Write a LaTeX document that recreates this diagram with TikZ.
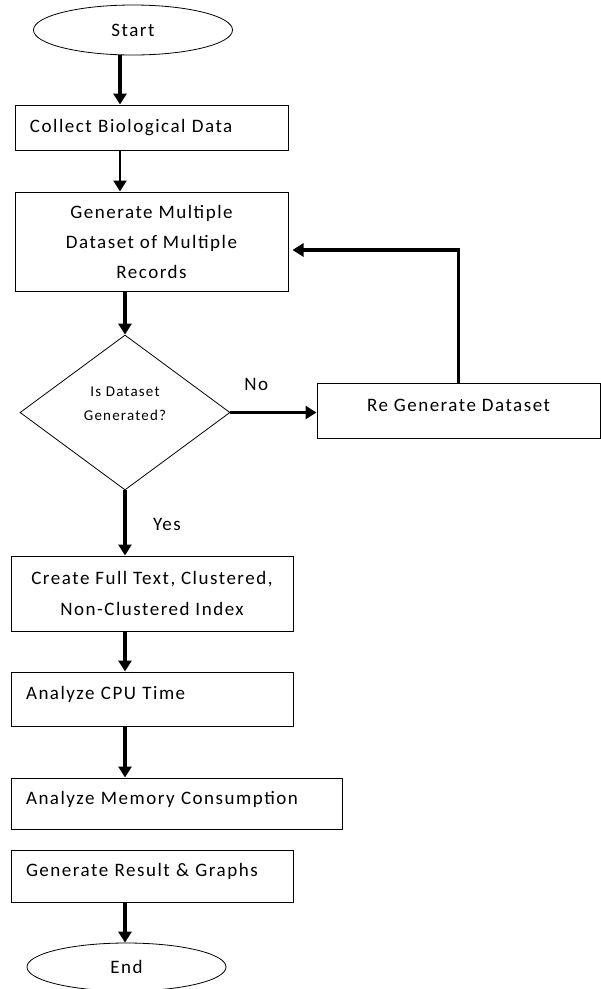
\documentclass[tikz,border=0pt]{standalone}
\usepackage{fontspec}
\setmainfont[LetterSpace=8]{Carlito}
\usetikzlibrary{arrows.meta}
\usetikzlibrary{shapes.geometric}

\begin{document}
\begin{tikzpicture}[x=1pt, y=-1pt,
	box/.style={draw=black, line width=1pt, inner sep=0pt, font=\fontsize{19}{30}\selectfont},
	leftbox/.style={box, inner xsep=15pt, align=left},
	midbox/.style={box, align=center},
	term/.style={draw=black, line width=0.8pt, ellipse, inner sep=0pt, font=\fontsize{19}{30}\selectfont},
	flow/.style={line width=3.5pt, -{Triangle[length=11pt, width=13pt]}},
	raise/.style={text height=14pt, text depth=13pt},
	tag/.style={font=\fontsize{19}{23}\selectfont}]

	\clip (0,0) rectangle (601,989);

	%spines for the vertical arrows
	\coordinate (LeftSpine) at (120,0);
	\coordinate (MainSpine) at (125,0);

	%terminals
	\node[term, minimum width=199pt, minimum height=50pt] (StartNode) at (133,30) {Start};
	\node[term, minimum width=199pt, minimum height=48pt] (EndNode) at (126.5,967) {End};

	%process boxes
	\node[leftbox, text width=243pt, minimum height=45pt] (CollectBox) at (151.5,127.5) {Collect Biological Data};
	\node[midbox, minimum width=273pt, minimum height=99pt] (GenBox) at (151.5,241.5) {Generate Multiple\\Dataset of Multiple\\Records};
	\node[midbox, raise, minimum width=283pt, minimum height=55pt] (RegenBox) at (458.5,410.5) {Re Generate Dataset};
	\node[midbox, font=\fontsize{19}{31}\selectfont, minimum width=282pt, minimum height=75pt] (CreateBox) at (152,593.5) {Create Full Text, Clustered,\\Non-Clustered Index};
	\node[leftbox, raise, text width=252pt, minimum height=54pt] (CpuBox) at (152,699) {Analyze CPU Time};
	\node[leftbox, raise, text width=301pt, minimum height=51pt] (MemBox) at (176.5,803.5) {Analyze Memory Consumption};
	\node[leftbox, raise, text width=252pt, minimum height=52pt] (ResultBox) at (152,876) {Generate Result \& Graphs};

	%decision
	\node[diamond, draw=black, line width=0.8pt, inner sep=0pt, minimum width=210pt, minimum height=155pt, align=center, font=\fontsize{15}{24}\selectfont, text height=30pt, text depth=15pt] (DecideNode) at (125,412.5) {Is Dataset\\Generated?};

	%arrows down the left
	\draw[flow, line width=4pt] (LeftSpine |- StartNode.south) -- (LeftSpine |- CollectBox.north);
	\draw[flow, line width=2.5pt] (LeftSpine |- CollectBox.south) -- (LeftSpine |- GenBox.north);
	\draw[flow] (MainSpine |- GenBox.south) -- (DecideNode.north);

	%no branch and loop back
	\draw[flow] (DecideNode.east) -- (DecideNode.east -| RegenBox.west) node[tag, pos=0.3, yshift=28pt] (NoLabel) {No};
	\draw[flow, shorten >=4pt] (RegenBox.north) |- ([yshift=-8.5pt]GenBox.east);

	%yes branch
	\draw[flow] (DecideNode.south) -- (DecideNode.south |- CreateBox.north) node[tag, pos=0.53, xshift=42pt] (YesLabel) {Yes};

	%rest of the flow
	\draw[flow] (MainSpine |- CreateBox.south) -- (MainSpine |- CpuBox.north);
	\draw[flow] (MainSpine |- CpuBox.south) -- (MainSpine |- MemBox.north);
	\draw[flow] (MainSpine |- ResultBox.south) -- (MainSpine |- EndNode.north);
\end{tikzpicture}
\end{document}
